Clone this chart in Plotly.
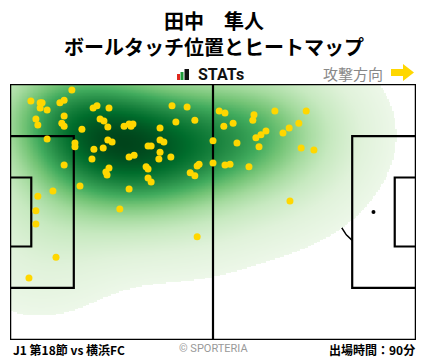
import numpy as np
import plotly.graph_objects as go

# ---------------- data (pitch metres, x: 0-105 left->right, y: 0-68 top->bottom) ----------------
touch_x = [16.0, 5.4, 7.8, 8.3, 7.8, 9.6, 12.9, 14.0, 14.0, 6.7, 7.2, 13.4, 14.0, 18.6, 21.5, 22.5,
           25.6, 23.3, 24.3, 25.3, 25.3, 26.4, 24.1, 21.7, 21.2, 9.6, 16.8, 16.8, 14.0, 24.8, 25.6,
           25.1, 29.5, 30.8, 31.8, 31.3, 38.8, 41.9, 45.8, 42.9, 47.8, 35.7, 36.5, 38.8, 39.8, 38.8,
           38.5, 41.6, 30.8, 32.1, 35.2, 35.7, 35.7, 36.5, 46.6, 47.8, 48.4, 48.9, 52.5, 52.5, 54.1,
           55.6, 63.1, 62.8, 68.5, 76.6, 55.3, 57.7, 74.7, 72.2, 70.6, 66.2, 64.9, 63.6, 58.7, 64.4,
           75.3, 78.6, 55.6, 56.9, 61.8, 18.1, 11.1, 7.2, 6.7, 6.7, 11.9, 4.9, 30.8, 28.4, 48.4, 72.4]
touch_y = [1.6, 4.5, 5.0, 5.0, 6.4, 6.9, 5.0, 4.3, 8.5, 9.3, 10.9, 10.4, 11.2, 12.0, 6.4, 5.8,
           6.4, 9.3, 9.8, 11.4, 14.9, 15.4, 17.0, 17.3, 19.9, 14.6, 15.7, 16.7, 21.5, 23.4, 22.3,
           24.2, 11.2, 10.6, 10.6, 11.2, 11.7, 5.8, 6.1, 10.1, 9.6, 16.5, 16.5, 14.9, 15.4, 18.1,
           19.9, 19.4, 19.4, 18.9, 22.0, 22.6, 25.0, 26.0, 23.6, 24.4, 21.8, 21.3, 15.1, 21.0, 7.2,
           7.7, 8.2, 9.6, 7.2, 7.2, 11.2, 10.4, 10.4, 11.7, 13.0, 12.5, 13.5, 14.3, 15.7, 16.7,
           17.0, 17.5, 21.5, 21.3, 22.0, 27.1, 28.4, 29.8, 33.7, 37.2, 46.0, 51.5, 27.9, 33.2, 40.6, 31.1]

title_name = "田中　隼人"
title_sub = "ボールタッチ位置とヒートマップ"
match_label = "J1 第18節 vs 横浜FC"
minutes_label = "出場時間：90分"
credit_label = "© SPORTERIA"
direction_label = "攻撃方向"

PITCH_L, PITCH_W = 105.0, 68.0
BW_X, BW_Y = 13.0, 11.0     # kernel bandwidths (m)
THRESH = 0.012
GAMMA = 0.65

# ---------------- KDE (Gaussian) with iso-proportion shading ----------------
X = np.array(touch_x); Y = np.array(touch_y)
gx = np.linspace(0, PITCH_L, 261)
gy = np.linspace(0, PITCH_W, 171)
GX, GY = np.meshgrid(gx, gy)
dx = (GX[..., None] - X) / BW_X
dy = (GY[..., None] - Y) / BW_Y
Z = np.exp(-0.5 * (dx * dx + dy * dy)).sum(-1)
flat = Z.ravel()
order = np.argsort(flat)
cum = np.cumsum(flat[order]) / flat.sum()
Q = np.empty_like(flat)
Q[order] = cum
Q = Q.reshape(Z.shape)
Qm = np.where(Q >= THRESH, ((Q - THRESH) / (1 - THRESH)) ** GAMMA, np.nan)

greens = [[0.0, "#eef8ea"], [0.125, "#e0f2da"], [0.25, "#c7e9c0"], [0.375, "#a1d99b"],
          [0.5, "#74c476"], [0.625, "#41ab5d"], [0.75, "#238b45"], [0.875, "#006d2c"],
          [1.0, "#00441b"]]

fig = go.Figure()

# markings that sit under the heat map (drawn on the base axes)
t = np.linspace(0, 2 * np.pi, 200)
base = dict(mode="lines", line=dict(color="black", width=1.5), hoverinfo="skip", showlegend=False)
fig.add_trace(go.Scatter(x=52.5 + 9.15 * np.cos(t), y=34 + 9.15 * np.sin(t) * 1.03, **base))
ang = np.linspace(np.arccos(5.5 / 9.15), -np.arccos(5.5 / 9.15), 60)
fig.add_trace(go.Scatter(x=11 + 9.15 * np.cos(ang), y=34 + 9.15 * np.sin(ang) * 1.03, **base))
ang2 = np.linspace(np.pi - np.arccos(5.5 / 9.15), np.pi + np.arccos(5.5 / 9.15), 60)
fig.add_trace(go.Scatter(x=94 + 9.15 * np.cos(ang2), y=34 + 9.15 * np.sin(ang2) * 1.03, **base))
fig.add_trace(go.Scatter(x=[11, 52.5, 94], y=[34, 34, 34], mode="markers",
                         marker=dict(color="black", size=4), hoverinfo="skip", showlegend=False))

# heat map and everything above it on overlaying axes
fig.add_trace(go.Heatmap(x=gx, y=gy, z=Qm, colorscale=greens, zmin=0, zmax=1.0,
                         zsmooth="best", showscale=False, hoverinfo="skip",
                         xaxis="x2", yaxis="y2"))

def seg(xs, ys, w=2.2):
    fig.add_trace(go.Scatter(x=xs, y=ys, mode="lines", line=dict(color="black", width=w),
                             hoverinfo="skip", showlegend=False, xaxis="x2", yaxis="y2"))

box_top, box_bot = 34 - 20.16, 34 + 20.16
ga_top, ga_bot = 34 - 9.16, 34 + 9.16
seg([0, 16.5, 16.5, 0], [box_top, box_top, box_bot, box_bot])
seg([0, 5.5, 5.5, 0], [ga_top, ga_top, ga_bot, ga_bot])
seg([105, 88.5, 88.5, 105], [box_top, box_top, box_bot, box_bot])
seg([105, 99.5, 99.5, 105], [ga_top, ga_top, ga_bot, ga_bot])
seg([52.5, 52.5], [0, 68])
seg([0, 105, 105, 0, 0], [0, 0, 68, 68, 0], w=2.5)

fig.add_trace(go.Scatter(x=touch_x, y=touch_y, mode="markers",
                         marker=dict(color="#FFD700", size=7, line=dict(width=0)),
                         hoverinfo="skip", showlegend=False, xaxis="x2", yaxis="y2"))

# ---------------- layout ----------------
L, T, W, H = 10, 84, 406, 256
def px(x): return (x - L) / W
def py(y): return (T + H - y) / H

cjk = "Noto Sans CJK JP"
ann = [
    dict(text="<b>" + title_name + "</b>", x=px(214), y=py(20), font=dict(size=20, family=cjk, color="black")),
    dict(text="<b>" + title_sub + "</b>", x=px(214), y=py(46), font=dict(size=20, family=cjk, color="black")),
    dict(text="<b>STATs</b>", x=px(196), y=py(74), xanchor="left", font=dict(size=16, family="Roboto", color="#111")),
    dict(text=direction_label, x=px(385), y=py(73), xanchor="right", font=dict(size=15, family=cjk, color="#888888")),
    dict(text="<b>" + match_label + "</b>", x=px(11), y=py(349), xanchor="left", font=dict(size=12, family=cjk, color="black")),
    dict(text=credit_label, x=px(213), y=py(348), font=dict(size=11, family="Roboto", color="#999999")),
    dict(text="<b>" + minutes_label + "</b>", x=px(417), y=py(349), xanchor="right", font=dict(size=12, family=cjk, color="black")),
]
annotations = []
for a in ann:
    a.setdefault("xanchor", "center")
    a.update(xref="paper", yref="paper", yanchor="middle", showarrow=False)
    annotations.append(a)

shapes = [
    dict(type="rect", x0=px(177), x1=px(180), y0=py(80), y1=py(74), fillcolor="#e0281e", line_width=0),
    dict(type="rect", x0=px(180.5), x1=px(183.5), y0=py(80), y1=py(72), fillcolor="#1f9a3a", line_width=0),
    dict(type="rect", x0=px(184.5), x1=px(189), y0=py(80), y1=py(69), fillcolor="#111111", line_width=0),
    dict(type="path",
         path=f"M {px(391)},{py(69)} L {px(403)},{py(69)} L {px(403)},{py(64)} L {px(414)},{py(72.5)} "
              f"L {px(403)},{py(81)} L {px(403)},{py(76)} L {px(391)},{py(76)} Z",
         fillcolor="#FFD700", line_width=0),
]
for s in shapes:
    s.setdefault("xref", "paper"); s.setdefault("yref", "paper")

ax = dict(range=[0, PITCH_L], visible=False, fixedrange=True)
ay = dict(range=[PITCH_W, 0], visible=False, fixedrange=True)
fig.update_layout(
    width=428, height=359,
    margin=dict(l=L, r=428 - L - W, t=T, b=359 - T - H),
    paper_bgcolor="white", plot_bgcolor="white",
    xaxis=ax, yaxis=ay,
    xaxis2=dict(ax, overlaying="x"), yaxis2=dict(ay, overlaying="y"),
    annotations=annotations, shapes=shapes, showlegend=False,
)
fig.write_html("out.html", config=dict(displayModeBar=False),
               post_script="document.body.style.margin='0';document.body.style.overflow='hidden';")
